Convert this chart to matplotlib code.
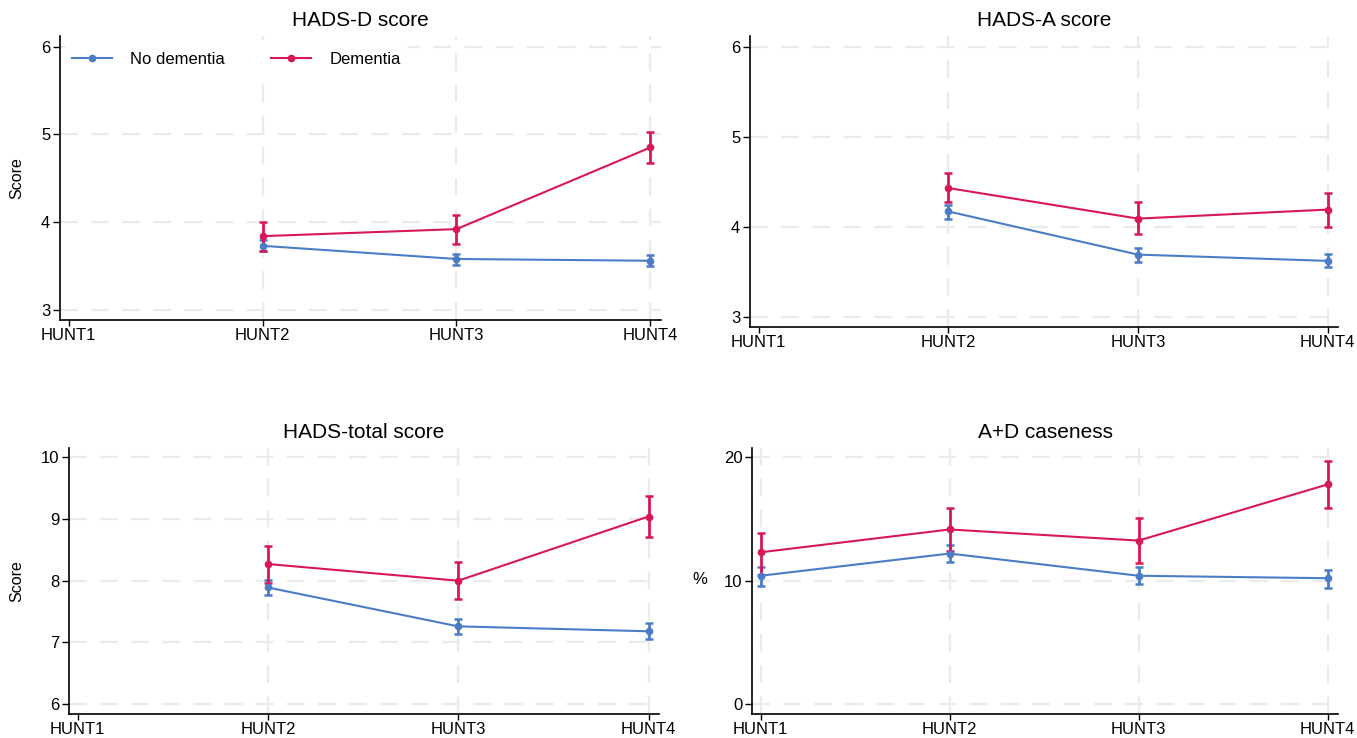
import numpy as np
import matplotlib.pyplot as plt

plt.rcParams['font.family'] = ['Liberation Sans', 'DejaVu Sans']

waves = ['HUNT1', 'HUNT2', 'HUNT3', 'HUNT4']
nan = np.nan

# HADS-D score
d_nodem = [nan, 3.73, 3.58, 3.56]
d_nodem_lo = [nan, 3.67, 3.51, 3.50]
d_nodem_hi = [nan, 3.80, 3.64, 3.63]
d_dem = [nan, 3.84, 3.92, 4.85]
d_dem_lo = [nan, 3.67, 3.75, 4.67]
d_dem_hi = [nan, 4.00, 4.08, 5.03]

# HADS-A score
a_nodem = [nan, 4.17, 3.69, 3.62]
a_nodem_lo = [nan, 4.09, 3.61, 3.55]
a_nodem_hi = [nan, 4.24, 3.76, 3.70]
a_dem = [nan, 4.43, 4.09, 4.19]
a_dem_lo = [nan, 4.27, 3.92, 4.00]
a_dem_hi = [nan, 4.60, 4.27, 4.38]

# HADS-total score
t_nodem = [nan, 7.89, 7.26, 7.18]
t_nodem_lo = [nan, 7.77, 7.13, 7.05]
t_nodem_hi = [nan, 8.01, 7.38, 7.31]
t_dem = [nan, 8.27, 8.00, 9.04]
t_dem_lo = [nan, 7.97, 7.70, 8.70]
t_dem_hi = [nan, 8.56, 8.30, 9.38]

# A+D caseness (%)
c_nodem = [10.4, 12.2, 10.4, 10.2]
c_nodem_lo = [9.6, 11.5, 9.7, 9.4]
c_nodem_hi = [11.1, 12.9, 11.1, 10.9]
c_dem = [12.3, 14.15, 13.25, 17.8]
c_dem_lo = [10.5, 12.4, 11.4, 15.9]
c_dem_hi = [13.9, 15.85, 15.1, 19.7]

blue = '#4a7dc6'
red = '#d8175a'
grid_col = '#ebebeb'

fig = plt.figure(figsize=(13.57, 7.38), dpi=100)
W, H = 1357, 738


def add_axes(left, right, top, bottom):
    return fig.add_axes([left / W, 1 - bottom / H, (right - left) / W, (bottom - top) / H])


panels = [
    (add_axes(60, 661, 36, 320), 'HADS-D score', 'Score', [3, 4, 5, 6], (2.885, 6.12),
     (d_nodem, d_nodem_lo, d_nodem_hi), (d_dem, d_dem_lo, d_dem_hi)),
    (add_axes(750, 1338, 36, 327), 'HADS-A score', None, [3, 4, 5, 6], (2.885, 6.12),
     (a_nodem, a_nodem_lo, a_nodem_hi), (a_dem, a_dem_lo, a_dem_hi)),
    (add_axes(69, 659, 448, 714), 'HADS-total score', 'Score', [6, 7, 8, 9, 10], (5.84, 10.15),
     (t_nodem, t_nodem_lo, t_nodem_hi), (t_dem, t_dem_lo, t_dem_hi)),
    (add_axes(752, 1338, 448, 714), 'A+D caseness', '%', [0, 10, 20], (-0.8, 20.75),
     (c_nodem, c_nodem_lo, c_nodem_hi), (c_dem, c_dem_lo, c_dem_hi)),
]

x = np.arange(1, 5)

for i, (ax, title, ylab, yticks, ylim, nodem, dem) in enumerate(panels):
    # grid lines drawn by hand so HUNT1 column can be skipped where no data
    for yt in yticks:
        ax.axhline(yt, color=grid_col, lw=1.6, dashes=(8, 6), zorder=0)
    gx = x if i == 3 else x[1:]
    for xt in gx:
        ax.axvline(xt, color=grid_col, lw=1.6, dashes=(8, 6), zorder=0)

    for (m, lo, hi), col, lab in [(nodem, blue, 'No dementia'), (dem, red, 'Dementia')]:
        m = np.array(m)
        err = np.array([m - np.array(lo), np.array(hi) - m])
        ax.errorbar(x, m, yerr=err, fmt='none', ecolor=col, elinewidth=2,
                    capsize=3, capthick=1.8, zorder=3)
        ax.plot(x, m, color=col, lw=1.5, marker='o', ms=4.5, label=lab, zorder=4)

    ax.set_xlim(0.955, 4.055)
    ax.set_ylim(*ylim)
    ax.set_xticks(x)
    ax.set_xticklabels(waves)
    ax.set_yticks(yticks)
    ax.tick_params(labelsize=12, width=1, direction='out')
    ax.tick_params(axis='x', length=4, pad=2)
    ax.tick_params(axis='y', length=5, pad=2)
    for s in ['top', 'right']:
        ax.spines[s].set_visible(False)
    for s in ['left', 'bottom']:
        ax.spines[s].set_linewidth(1.2)
    ax.set_title(title, fontsize=15, pad=7)
    if ylab == 'Score':
        ax.set_ylabel(ylab, fontsize=11.5)
        ax.yaxis.set_label_coords(-0.06 if i == 0 else -0.076, 0.5)
    elif ylab == '%':
        ax.set_ylabel(ylab, fontsize=12, rotation=0, va='center', ha='center')
        ax.yaxis.set_label_coords(-0.089, 0.504)

ax0 = panels[0][0]
leg = ax0.legend(loc='upper left', bbox_to_anchor=(0.0, 0.985), ncol=2, fontsize=12,
                 frameon=True, facecolor='white', edgecolor='none', framealpha=1,
                 handlelength=2.4, handletextpad=1.1, columnspacing=2.8,
                 borderpad=0.4, borderaxespad=0.3)
leg.get_frame().set_linewidth(0)
leg.set_zorder(5)

fig.savefig('out.png', dpi=100)
